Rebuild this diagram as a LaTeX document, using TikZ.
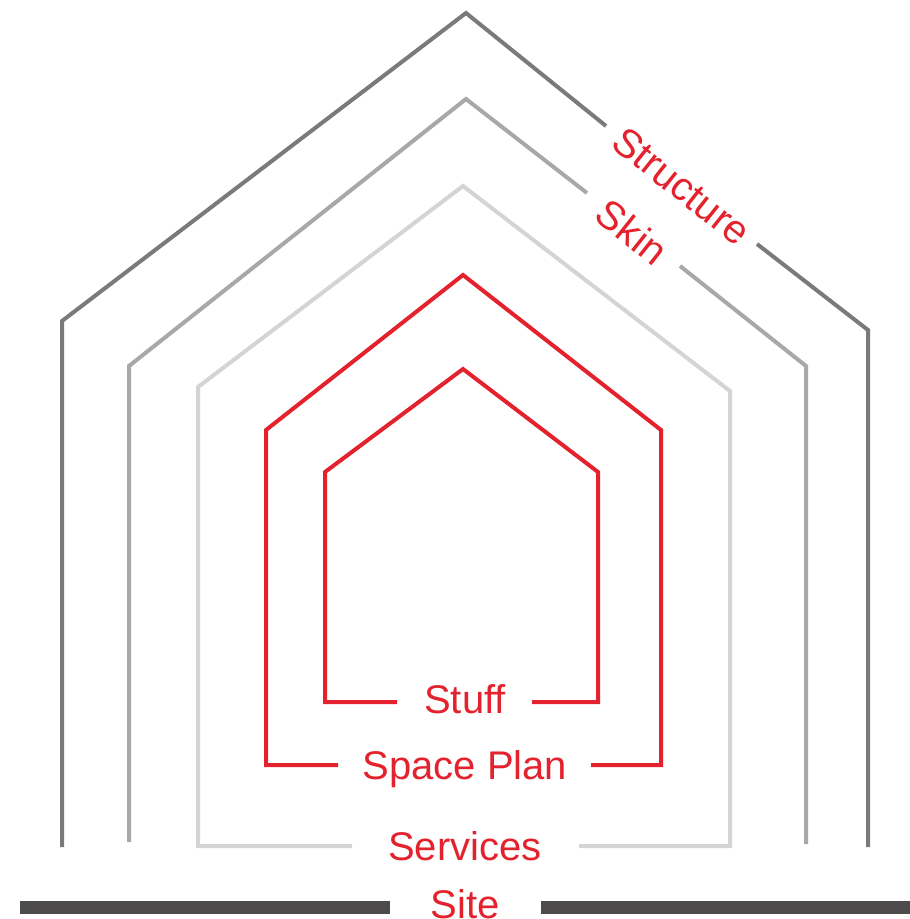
\documentclass[tikz,border=0pt]{standalone}
\usepackage{fontspec}
\setmainfont{Liberation Sans}
\definecolor{cStruct}{HTML}{7A7A7A}
\definecolor{cSkin}{HTML}{A8A8A8}
\definecolor{cServ}{HTML}{D4D4D4}
\definecolor{cRed}{HTML}{E3222D}
\definecolor{cSite}{HTML}{4D4A4B}
\begin{document}
\begin{tikzpicture}[x=1pt,y=-1pt,
  layer/.style={line width=4pt,line join=miter},
  lbl/.style={text=cRed,font=\fontsize{40}{48}\selectfont,inner sep=0pt}]
\useasboundingbox (0,0) rectangle (910,919);
% Structure
\draw[layer,cStruct] (62,847) -- (62,321) -- (466,13) -- (606,126);
\draw[layer,cStruct] (757,244) -- (868,330) -- (868,847);
\node[lbl,rotate=-38.5] (structure) at (682,186) {Structure};
% Skin
\draw[layer,cSkin] (129,842) -- (129,366) -- (466,99) -- (587,193);
\draw[layer,cSkin] (680,266) -- (806,366) -- (806,844);
\node[lbl,rotate=-38.5] (skin) at (632,232) {Skin};
% Services
\draw[layer,cServ] (352,846) -- (198,846) -- (198,387) -- (463,186) -- (730,391) -- (730,846) -- (579,846);
\node[lbl,anchor=base] (services) at (465,860) {Services};
% Space plan
\draw[layer,cRed] (338,765) -- (266,765) -- (266,430) -- (463,275) -- (661,430) -- (661,765) -- (591,765);
\node[lbl,anchor=base] (spaceplan) at (465,779) {Space Plan};
% Stuff
\draw[layer,cRed] (397,702) -- (325,702) -- (325,472) -- (463,369) -- (598,472) -- (598,702) -- (532,702);
\node[lbl,anchor=base] (stuff) at (465,713) {Stuff};
% Site
\draw[cSite,line width=13pt] (20,907.5) -- (390,907.5);
\draw[cSite,line width=13pt] (541,907.5) -- (910,907.5);
\node[lbl,anchor=base] (site) at (465,918) {Site};
\end{tikzpicture}
\end{document}
